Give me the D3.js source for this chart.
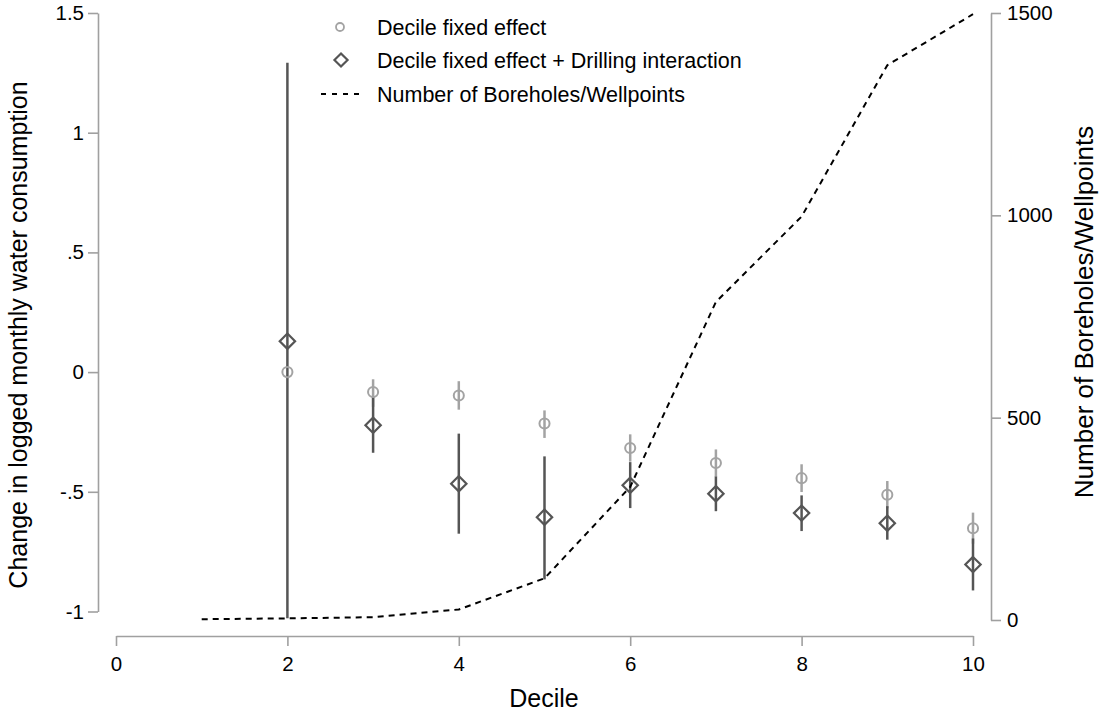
<!DOCTYPE html>
<html>
<head>
<meta charset="utf-8">
<script src="https://cdn.jsdelivr.net/npm/d3@7"></script>
<style>
  body { margin: 0; background: #fff; }
  svg { font-family: "Liberation Sans", Arial, Helvetica, sans-serif; }
  .axis path, .axis line { stroke: #a0a0a0; stroke-width: 1.6; }
  .axis text { fill: #000; font-size: 20.5px; }
</style>
</head>
<body>
<div id="chart"></div>
<script>
// deciles with estimates
var deciles = [2, 3, 4, 5, 6, 7, 8, 9, 10];

// decile fixed effect (circles)
var fe   = [0, -0.083, -0.098, -0.215, -0.317, -0.380, -0.443, -0.512, -0.652];
var feHi = [0, -0.030, -0.038, -0.160, -0.260, -0.323, -0.385, -0.455, -0.587];
var feLo = [0, -0.145, -0.157, -0.275, -0.374, -0.437, -0.501, -0.569, -0.717];

// decile fixed effect + drilling interaction (diamonds)
var dfe   = [0.129, -0.222, -0.466, -0.606, -0.473, -0.508, -0.589, -0.631, -0.804];
var dfeHi = [1.292, -0.104, -0.257, -0.352, -0.376, -0.436, -0.515, -0.560, -0.695];
var dfeLo = [-1.028, -0.337, -0.675, -0.866, -0.568, -0.581, -0.664, -0.700, -0.912];

// number of boreholes / wellpoints per decile
var bhDeciles = [1, 2, 3, 4, 5, 6, 7, 8, 9, 10];
var boreholes = [2, 4, 7, 26, 103, 329, 786, 997, 1371, 1497];

// tick labels
var xTicks = [0, 2, 4, 6, 8, 10];
var yTicks = [-1, -0.5, 0, 0.5, 1, 1.5];
var yTickLabels = ["-1", "-.5", "0", ".5", "1", "1.5"];
var y2Ticks = [0, 500, 1000, 1500];

var width = 1101;
var height = 713;

var svg = d3.select("#chart")
    .append("svg")
    .attr("width", width)
    .attr("height", height);

var x = d3.scaleLinear().domain([0, 10]).range([116, 973]);
var y = d3.scaleLinear().domain([-1, 1.5]).range([611.5, 13]);
var y2 = d3.scaleLinear().domain([0, 1500]).range([620, 13]);

// axes
svg.append("g")
    .attr("class", "axis")
    .attr("transform", "translate(0,636)")
    .call(d3.axisBottom(x).tickValues(xTicks).tickSize(10).tickSizeOuter(0).tickPadding(10));

svg.append("g")
    .attr("class", "axis")
    .attr("transform", "translate(98,0)")
    .call(d3.axisLeft(y).tickValues(yTicks).tickSize(10).tickSizeOuter(0).tickPadding(4)
        .tickFormat(function(d, i) { return yTickLabels[i]; }));

svg.append("g")
    .attr("class", "axis")
    .attr("transform", "translate(991,0)")
    .call(d3.axisRight(y2).tickValues(y2Ticks).tickSize(10).tickSizeOuter(0).tickPadding(6)
        .tickFormat(d3.format("d")));

// axis titles
svg.append("text")
    .attr("transform", "translate(27,335)rotate(-90)")
    .attr("text-anchor", "middle")
    .attr("font-size", "25px")
    .text("Change in logged monthly water consumption");

svg.append("text")
    .attr("transform", "translate(1093,312)rotate(-90)")
    .attr("text-anchor", "middle")
    .attr("font-size", "26px")
    .text("Number of Boreholes/Wellpoints");

svg.append("text")
    .attr("x", 544)
    .attr("y", 707)
    .attr("text-anchor", "middle")
    .attr("font-size", "25px")
    .text("Decile");

var light = "#a3a3a3";
var dark = "#555555";

var pts = deciles.map(function(d, i) {
    return { d: d, fe: fe[i], feLo: feLo[i], feHi: feHi[i], dfe: dfe[i], dfeLo: dfeLo[i], dfeHi: dfeHi[i] };
});

// confidence intervals
svg.selectAll(".ciLight")
    .data(pts)
    .enter()
    .append("line")
    .attr("class", "ciLight")
    .attr("x1", function(p) { return x(p.d); })
    .attr("x2", function(p) { return x(p.d); })
    .attr("y1", function(p) { return y(p.feLo); })
    .attr("y2", function(p) { return y(p.feHi); })
    .attr("stroke", light)
    .attr("stroke-width", 2.5);

svg.selectAll(".ciDark")
    .data(pts)
    .enter()
    .append("line")
    .attr("class", "ciDark")
    .attr("x1", function(p) { return x(p.d); })
    .attr("x2", function(p) { return x(p.d); })
    .attr("y1", function(p) { return y(p.dfeLo); })
    .attr("y2", function(p) { return y(p.dfeHi); })
    .attr("stroke", dark)
    .attr("stroke-width", 2.5);

// markers
var circleSym = d3.symbol().type(d3.symbolCircle).size(80);
var diamondSym = d3.symbol().type(d3.symbolDiamond2).size(150);

svg.selectAll(".feMark")
    .data(pts)
    .enter()
    .append("path")
    .attr("class", "feMark")
    .attr("d", circleSym)
    .attr("transform", function(p) { return "translate(" + x(p.d) + "," + y(p.fe) + ")"; })
    .attr("fill", "none")
    .attr("stroke", light)
    .attr("stroke-width", 2);

svg.selectAll(".dfeMark")
    .data(pts)
    .enter()
    .append("path")
    .attr("class", "dfeMark")
    .attr("d", diamondSym)
    .attr("transform", function(p) { return "translate(" + x(p.d) + "," + y(p.dfe) + ")"; })
    .attr("fill", "none")
    .attr("stroke", dark)
    .attr("stroke-width", 2.2);

// boreholes line
var line = d3.line()
    .x(function(d, i) { return x(bhDeciles[i]); })
    .y(function(d) { return y2(d); });

svg.append("path")
    .datum(boreholes)
    .attr("d", line)
    .attr("fill", "none")
    .attr("stroke", "#000")
    .attr("stroke-width", 2)
    .attr("stroke-dasharray", "6,5");

// legend
var legend = svg.append("g");

legend.append("path")
    .attr("d", d3.symbol().type(d3.symbolCircle).size(50))
    .attr("transform", "translate(340,27)")
    .attr("fill", "none")
    .attr("stroke", light)
    .attr("stroke-width", 1.8);

legend.append("path")
    .attr("d", d3.symbol().type(d3.symbolDiamond2).size(110))
    .attr("transform", "translate(341,60)")
    .attr("fill", "none")
    .attr("stroke", dark)
    .attr("stroke-width", 2.2);

legend.append("line")
    .attr("x1", 321).attr("x2", 360)
    .attr("y1", 94).attr("y2", 94)
    .attr("stroke", "#000")
    .attr("stroke-width", 2)
    .attr("stroke-dasharray", "5,6");

var legendText = ["Decile fixed effect", "Decile fixed effect + Drilling interaction", "Number of Boreholes/Wellpoints"];

legend.selectAll(".legText")
    .data(legendText)
    .enter()
    .append("text")
    .attr("class", "legText")
    .attr("x", 377)
    .attr("y", function(d, i) { return 27 + i * 33.5; })
    .attr("dy", "0.35em")
    .attr("font-size", "21.5px")
    .text(function(d) { return d; });
</script>
</body>
</html>
